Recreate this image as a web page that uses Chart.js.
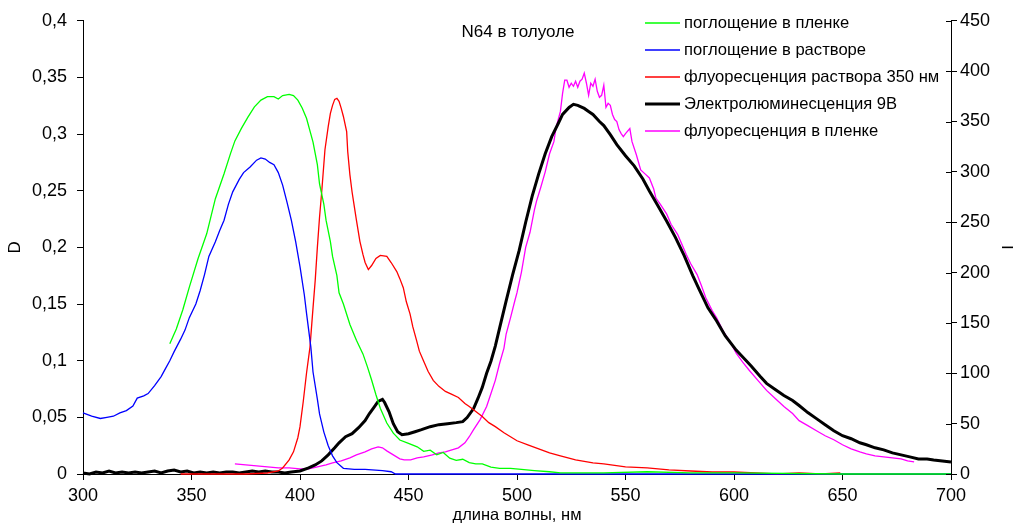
<!DOCTYPE html>
<html><head><meta charset="utf-8">
<script src="https://cdn.jsdelivr.net/npm/chart.js@4"></script>
<style>html,body{margin:0;padding:0;background:#fff}#wrap{width:1013px;height:524px}</style>
</head><body><div id="wrap"><canvas id="c" width="1013" height="524"></canvas></div>
<script>
// ---- data (wavelength, nm) ----
const chartTitle = 'N64 в толуоле';
const xTickLabels = ['300','350','400','450','500','550','600','650','700'];
const leftTickLabels = ['0','0,05','0,1','0,15','0,2','0,25','0,3','0,35','0,4'];
const rightTickLabels = ['0','50','100','150','200','250','300','350','400','450'];
const seriesNames = ['поглощение в пленке','поглощение в растворе','флуоресценция раствора 350 нм','Электролюминесценция 9В','флуоресценция в пленке'];

// absorption in film (D)
const greenX = [340,343,346,349,353,357,361,365,368,370,373,376,379,382,385,388,390,392,395,397,399,401,403,405,406,408,409,411,412,414,415,417,418,420,423,426,429,431,433,435,437,440,443,446,450,454,457,460,463,466,469,472,475,478,481,484,488,492,497,502,508,515,520,540,560,580,600,650,700];
const greenY = [0.115,0.128,0.145,0.165,0.19,0.212,0.243,0.265,0.283,0.294,0.305,0.315,0.324,0.330,0.333,0.333,0.331,0.334,0.335,0.334,0.330,0.323,0.314,0.300,0.293,0.273,0.256,0.238,0.224,0.205,0.192,0.175,0.160,0.150,0.132,0.118,0.106,0.095,0.083,0.070,0.058,0.045,0.036,0.030,0.027,0.024,0.020,0.021,0.017,0.019,0.014,0.012,0.013,0.010,0.009,0.009,0.006,0.005,0.005,0.004,0.003,0.002,0.001,0.001,0.002,0.001,0.001,0,0];

// absorption in solution (D)
const blueX = [300,304,308,311,314,317,320,323,325,328,330,333,336,338,340,342,345,347,349,352,354,356,358,361,363,365,367,369,372,374,377,380,382,384,386,388,390,392,394,396,398,400,402,403,405,406,408,409,411,413,415,417,420,425,430,438,442,444,500,600,700];
const blueY = [0.054,0.051,0.049,0.050,0.051,0.054,0.056,0.060,0.067,0.069,0.071,0.078,0.086,0.093,0.100,0.108,0.119,0.127,0.138,0.150,0.162,0.176,0.192,0.205,0.215,0.224,0.238,0.249,0.260,0.266,0.271,0.277,0.279,0.278,0.275,0.273,0.266,0.255,0.240,0.224,0.205,0.183,0.158,0.142,0.112,0.090,0.066,0.053,0.037,0.025,0.016,0.010,0.005,0.004,0.004,0.003,0.002,0,0,0,0];

// fluorescence of solution, 350 nm (I)
const redX = [345,360,375,385,390,392,395,397,399,400,401.5,403,404.6,406,407,408,409,410,411.5,413,414,415,416,417,418,419,420,421.5,422,423,424,425,426,427.6,429,430,431.5,433,435,437,440,442,444.6,446,447.6,449,450.7,452,453.8,455,456.8,459,461.4,464,467,470,473,476,478,481,484,487,490,494,497,500,505,510,515,520,527,535,540,550,560,570,580,590,600,610,620,630,640,649];
const redY = [0,0,0,1,3,6,14,22,36,47,72,100,126,165,192,225,255,280,322,345,358,366,372,373,370,363,355,340,320,297,280,266,252,231,218,210,203,207,214,217,216,210,201,194,185,171,159,146,132,122,113,102,93,87,82,79,76,70,67,62,57,51,47,41,37,33,29,25,21,18,14,11,10,7,6,4,3,2,2,1,0,1,0,1];

// electroluminescence 9 V (I)
const blackX = [300,303,306,309,312,315,318,321,324,327,330,333,336,339,342,345,348,351,354,357,360,363,366,369,372,375,378,381,384,387,390,393,396,400,404,407,410,413,416,418,421,424,427,430,432,434,436,438,439,441,443,445,447,450,453,456,460,464,468,472,475,477,480,482,484,486,488,490,492,495,498,501,504,507,510,513,516,519,521,524,526,528,531,533,535,538,540,543,546,550,554,558,561,565,569,573,577,581,584,588,592,596,601,605,608,612,615,619,623,627,630,634,638,642,646,650,654,658,661,665,669,673,677,681,685,689,692,696,700];
const blackY = [1,0,2,1,3,1,2,1,2,1,2,3,1,3,4,2,3,1,2,1,2,1,2,2,1,2,3,2,3,2,2,1,2,3,6,9,13,19,26,31,37,40,46,53,60,66,72,74,71,62,50,42,39,40,42,44,47,49,50,51,52,56,65,75,86,100,112,127,145,172,198,222,250,276,298,318,335,348,357,364,367,366,363,360,357,350,346,337,327,316,306,293,281,266,251,235,217,197,183,165,152,137,123,114,107,97,90,84,78,73,68,61,55,49,43,38,35,31,29,26,24,21,19,17,15,15,14,13,12];

// fluorescence in film (I)
const magX = [370,375,380,385,390,395,400,404,408,412,415,419,423,426,430,433,436,438,440,443,446,448,451,454,457,461,464,467,470,473,476,478,480,483,486,488,490,492,494,495,497,499,500,502,504,506,508,509,511,513,515,517,518,520,521,522,523,524,525,526,527,528,529,530,531,532,533,534,535,536,537,538,539,540,541,542,543,544,545,546,547,548,549,550,552,553,555,557,559,561,563,564,566,569,571,574,576,578,580,583,585,587,590,592,595,598,601,604,607,611,615,619,623,627,630,634,638,642,646,650,654,658,661,665,669,673,677,680,683];
const magY = [10,9,8,7,6,6,5,5,7,9,11,13,16,19,22,25,27,26,23,19,15,14,14,16,17,19,21,22,24,26,31,37,44,54,67,80,93,110,125,139,155,172,180,200,225,240,262,271,285,300,318,330,344,360,378,391,391,384,388,385,390,384,390,392,398,388,376,388,385,392,380,374,376,386,364,368,366,357,352,350,342,338,335,338,343,330,317,302,298,294,283,274,268,258,248,238,228,218,209,198,187,175,162,155,142,132,120,111,103,93,83,75,67,60,53,48,43,38,34,29,25,22,20,18,17,16,15,13,12];

const FONT = "'Liberation Sans', Arial, sans-serif";
const pts = (xs, ys) => xs.map((x, i) => ({x: x, y: ys[i]}));

function ds(label, xs, ys, color, width, axis) {
  return {label: label, data: pts(xs, ys), borderColor: color, backgroundColor: color,
    borderWidth: width, pointRadius: 0, showLine: true, tension: 0, yAxisID: axis, clip: false};
}

const overlay = {
  id: 'overlay',
  afterDraw(chart) {
    const ctx = chart.ctx;
    const ca = chart.chartArea;
    ctx.save();
    // inner ticks on right axis
    const y1 = chart.scales.y1;
    ctx.strokeStyle = '#000'; ctx.lineWidth = 1;
    y1.ticks.forEach((t) => {
      const yy = Math.round(y1.getPixelForValue(t.value)) + 0.5;
      ctx.beginPath(); ctx.moveTo(ca.right - 5, yy); ctx.lineTo(ca.right, yy); ctx.stroke();
    });
    // title
    ctx.fillStyle = '#000';
    ctx.font = '17px ' + FONT;
    ctx.textAlign = 'center'; ctx.textBaseline = 'middle';
    ctx.fillText(chartTitle, 518, 32);
    // legend
    ctx.font = '16.6px ' + FONT;
    ctx.textAlign = 'left';
    const rows = [23, 50, 77, 104, 131];
    chart.data.datasets.forEach((d, i) => {
      ctx.strokeStyle = d.borderColor; ctx.lineWidth = d.borderWidth;
      ctx.beginPath(); ctx.moveTo(645, rows[i]); ctx.lineTo(680, rows[i]); ctx.stroke();
      ctx.fillStyle = '#000';
      ctx.fillText(d.label, 684, rows[i]);
    });
    ctx.restore();
  }
};

new Chart(document.getElementById('c'), {
  type: 'scatter',
  data: {
    datasets: [
      ds(seriesNames[0], greenX, greenY, '#00ff00', 1.3, 'y'),
      ds(seriesNames[1], blueX, blueY, '#0000ff', 1.3, 'y'),
      ds(seriesNames[2], redX, redY, '#ff0000', 1.3, 'y1'),
      ds(seriesNames[3], blackX, blackY, '#000000', 3, 'y1'),
      ds(seriesNames[4], magX, magY, '#ff00ff', 1.3, 'y1')
    ]
  },
  options: {
    responsive: false,
    animation: false,
    events: [],
    layout: {padding: {top: 19, left: 0, right: 0, bottom: 0}},
    plugins: {legend: {display: false}, tooltip: {enabled: false}},
    scales: {
      x: {
        type: 'linear', position: 'bottom', min: 300, max: 700,
        ticks: {stepSize: 50, color: '#000', font: {family: FONT, size: 18}, padding: 5,
          maxRotation: 0, callback: (v, i) => xTickLabels[i]},
        grid: {drawOnChartArea: false, color: '#000', tickLength: 6},
        border: {color: '#000', width: 1},
        title: {display: true, text: 'длина волны, нм', color: '#000', font: {family: FONT, size: 16.5}, padding: {top: 0, bottom: -1}},
        afterFit: s => { s.height = 50; }
      },
      y: {
        type: 'linear', position: 'left', min: 0, max: 0.4,
        ticks: {stepSize: 0.05, color: '#000', font: {family: FONT, size: 18}, padding: 10,
          callback: (v, i) => leftTickLabels[i]},
        grid: {drawOnChartArea: false, color: '#000', tickLength: 6},
        border: {color: '#000', width: 1},
        title: {display: true, text: 'D', color: '#000', font: {family: FONT, size: 17}, padding: {top: 5, bottom: 0}},
        afterFit: s => { s.width = 83; }
      },
      y1: {
        type: 'linear', position: 'right', min: 0, max: 450,
        ticks: {stepSize: 50, color: '#000', font: {family: FONT, size: 18}, padding: 3,
          callback: (v, i) => rightTickLabels[i]},
        grid: {drawOnChartArea: false, color: '#000', tickLength: 6},
        border: {color: '#000', width: 1},
        title: {display: true, text: 'I', color: '#000', font: {family: FONT, size: 17}, padding: {top: -4, bottom: 0}},
        afterFit: s => { s.width = 62; }
      }
    }
  },
  plugins: [overlay]
});
</script>
</body></html>
